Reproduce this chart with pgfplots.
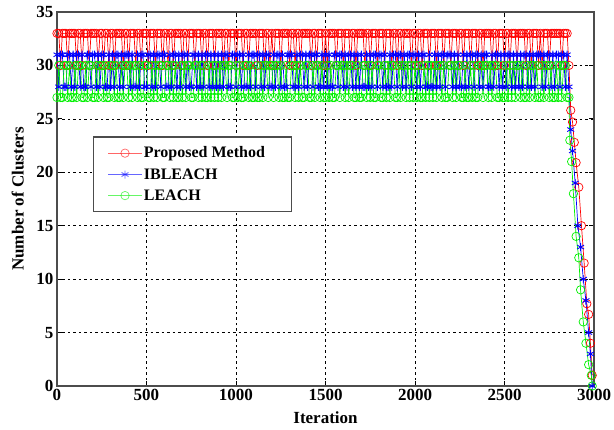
\documentclass[border=0pt]{standalone}
\usepackage{fontspec}
\setmainfont{Liberation Serif}
\usepackage{pgfplots}
\pgfplotsset{compat=1.18}
\definecolor{mred}{RGB}{255,0,0}
\definecolor{mblue}{RGB}{0,0,255}
\definecolor{mgreen}{RGB}{0,240,0}
\begin{document}
\begin{tikzpicture}
\begin{axis}[
  at={(0pt,0pt)}, anchor=south west,
  scale only axis, width=537pt, height=374pt,
  xmin=0, xmax=3000, ymin=0, ymax=35,
  xtick={0,500,...,3000}, ytick={0,5,...,35},
  /pgf/number format/assume math mode=true,
  /pgf/number format/1000 sep={},
  ticklabel style={font=\fontsize{17}{19}\selectfont\bfseries},
  label style={font=\fontsize{17}{19}\selectfont\bfseries},
  xlabel={Iteration}, ylabel={Number of Clusters},
  xlabel style={at={(axis description cs:0.5,-0.0856)}, anchor=center},
  ylabel style={at={(axis description cs:-0.073,0.5)}, anchor=center},
  grid=major, major grid style={black, line width=0.6pt, dash pattern=on 2.5pt off 3pt},
  axis line style={line width=1.2pt, black!70},
  tick style={black, line width=0.8pt}, major tick length=5pt,
  legend style={at={(0.067,0.668)}, anchor=north west, draw=black!70, line width=1.4pt,
    font=\fontsize{16}{18}\selectfont\bfseries, row sep=6pt, inner ysep=8.5pt,
    nodes={inner sep=1.5pt}},
  legend cell align=left,
  legend image code/.code={\path (-11pt,0pt); \draw[mark repeat=2,mark phase=2,opacity=0.6] plot coordinates {(0pt,0pt)(17pt,0pt)(34pt,0pt)};},
]
\addplot[color=mred, line width=0.7pt, mark=o, mark size=4.2pt, mark options={line width=0.7pt}] coordinates {
(0,33)(10,33)(20,30)(30,33)(40,33)(50,33)(60,30)(70,33)(80,33)(90,33)
(100,33)(110,30)(120,33)(130,33)(140,30)(150,33)(160,33)(170,33)(180,30)(190,33)
(200,33)(210,33)(220,33)(230,30)(240,33)(250,33)(260,30)(270,33)(280,33)(290,30)
(300,33)(310,33)(320,30)(330,33)(340,33)(350,33)(360,33)(370,30)(380,33)(390,33)
(400,30)(410,33)(420,33)(430,33)(440,30)(450,33)(460,33)(470,30)(480,33)(490,33)
(500,33)(510,30)(520,33)(530,33)(540,33)(550,30)(560,33)(570,33)(580,33)(590,30)
(600,33)(610,33)(620,30)(630,33)(640,33)(650,30)(660,33)(670,33)(680,33)(690,33)
(700,30)(710,33)(720,33)(730,30)(740,33)(750,33)(760,33)(770,30)(780,33)(790,33)
(800,33)(810,30)(820,33)(830,33)(840,30)(850,33)(860,33)(870,33)(880,30)(890,33)
(900,33)(910,33)(920,33)(930,30)(940,33)(950,33)(960,30)(970,33)(980,33)(990,33)
(1000,30)(1010,33)(1020,33)(1030,33)(1040,30)(1050,33)(1060,33)(1070,30)(1080,33)(1090,33)
(1100,33)(1110,33)(1120,30)(1130,33)(1140,33)(1150,33)(1160,30)(1170,33)(1180,33)(1190,30)
(1200,33)(1210,30)(1220,33)(1230,33)(1240,33)(1250,30)(1260,33)(1270,33)(1280,33)(1290,33)
(1300,30)(1310,33)(1320,33)(1330,30)(1340,33)(1350,33)(1360,30)(1370,33)(1380,33)(1390,33)
(1400,33)(1410,33)(1420,30)(1430,33)(1440,33)(1450,30)(1460,33)(1470,33)(1480,33)(1490,30)
(1500,33)(1510,30)(1520,33)(1530,33)(1540,33)(1550,33)(1560,30)(1570,33)(1580,33)(1590,33)
(1600,30)(1610,33)(1620,33)(1630,33)(1640,30)(1650,33)(1660,33)(1670,30)(1680,33)(1690,33)
(1700,33)(1710,33)(1720,30)(1730,33)(1740,33)(1750,30)(1760,33)(1770,33)(1780,33)(1790,30)
(1800,33)(1810,33)(1820,33)(1830,30)(1840,33)(1850,33)(1860,33)(1870,30)(1880,33)(1890,33)
(1900,30)(1910,33)(1920,33)(1930,30)(1940,33)(1950,33)(1960,33)(1970,33)(1980,30)(1990,33)
(2000,33)(2010,30)(2020,33)(2030,33)(2040,30)(2050,33)(2060,33)(2070,33)(2080,30)(2090,33)
(2100,33)(2110,33)(2120,30)(2130,33)(2140,33)(2150,33)(2160,30)(2170,33)(2180,33)(2190,33)
(2200,30)(2210,33)(2220,33)(2230,33)(2240,30)(2250,33)(2260,33)(2270,30)(2280,33)(2290,33)
(2300,33)(2310,30)(2320,33)(2330,33)(2340,33)(2350,30)(2360,33)(2370,33)(2380,30)(2390,33)
(2400,33)(2410,33)(2420,33)(2430,30)(2440,33)(2450,33)(2460,30)(2470,33)(2480,33)(2490,33)
(2500,30)(2510,33)(2520,33)(2530,30)(2540,33)(2550,33)(2560,33)(2570,30)(2580,33)(2590,33)
(2600,33)(2610,33)(2620,30)(2630,33)(2640,33)(2650,30)(2660,33)(2670,33)(2680,33)(2690,30)
(2700,33)(2710,30)(2720,33)(2730,33)(2740,33)(2750,30)(2760,33)(2770,33)(2780,33)(2790,33)
(2800,33)(2810,33)(2820,30)(2830,33)(2840,33)(2850,33)
(2860,30)(2870,25.8)(2880,24.7)(2890,22.8)(2900,20.9)(2915,18.6)(2930,15)(2945,11.5)
(2960,7.7)(2970,6.7)(2980,4)(2990,1)
};
\addlegendentry{Proposed Method\hspace*{22pt}}
\addplot[color=mblue, line width=0.7pt, mark=asterisk, mark size=4pt, mark options={line width=0.9pt}] coordinates {
(0,31)(10,28)(20,31)(30,31)(40,28)(50,28)(60,31)(70,31)(80,28)(90,31)
(100,28)(110,31)(120,31)(130,28)(140,31)(150,28)(160,28)(170,31)(180,31)(190,28)
(200,31)(210,31)(220,28)(230,31)(240,28)(250,31)(260,31)(270,28)(280,28)(290,31)
(300,28)(310,31)(320,28)(330,31)(340,31)(350,28)(360,31)(370,28)(380,31)(390,31)
(400,31)(410,28)(420,31)(430,28)(440,28)(450,31)(460,28)(470,31)(480,31)(490,28)
(500,28)(510,31)(520,31)(530,28)(540,31)(550,28)(560,31)(570,31)(580,28)(590,31)
(600,31)(610,28)(620,28)(630,31)(640,28)(650,31)(660,31)(670,28)(680,31)(690,28)
(700,31)(710,31)(720,28)(730,31)(740,28)(750,28)(760,31)(770,31)(780,28)(790,31)
(800,28)(810,31)(820,28)(830,31)(840,31)(850,28)(860,31)(870,28)(880,31)(890,28)
(900,31)(910,28)(920,31)(930,28)(940,31)(950,31)(960,28)(970,28)(980,31)(990,31)
(1000,28)(1010,31)(1020,31)(1030,28)(1040,31)(1050,28)(1060,28)(1070,31)(1080,28)(1090,31)
(1100,31)(1110,28)(1120,31)(1130,31)(1140,28)(1150,31)(1160,28)(1170,31)(1180,31)(1190,28)
(1200,28)(1210,31)(1220,28)(1230,31)(1240,31)(1250,28)(1260,31)(1270,28)(1280,28)(1290,31)
(1300,31)(1310,31)(1320,28)(1330,28)(1340,31)(1350,28)(1360,31)(1370,31)(1380,28)(1390,31)
(1400,28)(1410,31)(1420,31)(1430,28)(1440,31)(1450,31)(1460,28)(1470,28)(1480,31)(1490,28)
(1500,31)(1510,28)(1520,31)(1530,28)(1540,28)(1550,31)(1560,31)(1570,28)(1580,31)(1590,31)
(1600,28)(1610,31)(1620,28)(1630,31)(1640,31)(1650,28)(1660,31)(1670,28)(1680,31)(1690,28)
(1700,31)(1710,28)(1720,28)(1730,31)(1740,28)(1750,31)(1760,28)(1770,31)(1780,31)(1790,28)
(1800,31)(1810,31)(1820,28)(1830,31)(1840,28)(1850,28)(1860,31)(1870,28)(1880,31)(1890,31)
(1900,28)(1910,31)(1920,31)(1930,28)(1940,31)(1950,28)(1960,31)(1970,31)(1980,28)(1990,31)
(2000,31)(2010,28)(2020,31)(2030,28)(2040,31)(2050,31)(2060,28)(2070,28)(2080,31)(2090,28)
(2100,28)(2110,31)(2120,28)(2130,31)(2140,28)(2150,31)(2160,31)(2170,28)(2180,31)(2190,31)
(2200,31)(2210,28)(2220,31)(2230,28)(2240,31)(2250,28)(2260,28)(2270,31)(2280,28)(2290,31)
(2300,28)(2310,31)(2320,31)(2330,28)(2340,31)(2350,31)(2360,28)(2370,31)(2380,28)(2390,31)
(2400,31)(2410,28)(2420,28)(2430,31)(2440,28)(2450,31)(2460,31)(2470,28)(2480,31)(2490,28)
(2500,31)(2510,28)(2520,31)(2530,31)(2540,28)(2550,31)(2560,28)(2570,31)(2580,28)(2590,31)
(2600,28)(2610,31)(2620,31)(2630,28)(2640,31)(2650,28)(2660,31)(2670,28)(2680,31)(2690,31)
(2700,31)(2710,28)(2720,31)(2730,28)(2740,31)(2750,31)(2760,28)(2770,31)(2780,28)(2790,31)
(2800,31)(2810,28)(2820,31)(2830,31)(2840,28)(2850,31)
(2860,28)(2870,24)(2880,22)(2895,19)(2910,15)(2925,13)(2940,10)(2955,8)(2970,5)(2980,3)(2990,0)
};
\addlegendentry{IBLEACH}
\addplot[color=mgreen, line width=0.7pt, mark=o, mark size=4.2pt, mark options={line width=0.7pt}] coordinates {
(0,27)(10,30)(20,27)(30,27)(40,30)(50,30)(60,27)(70,30)(80,27)(90,27)
(100,30)(110,27)(120,30)(130,30)(140,27)(150,27)(160,30)(170,27)(180,30)(190,30)
(200,27)(210,27)(220,30)(230,27)(240,30)(250,30)(260,27)(270,30)(280,27)(290,27)
(300,30)(310,30)(320,27)(330,30)(340,27)(350,27)(360,30)(370,27)(380,30)(390,30)
(400,27)(410,30)(420,27)(430,30)(440,30)(450,27)(460,30)(470,27)(480,27)(490,30)
(500,30)(510,27)(520,27)(530,30)(540,27)(550,30)(560,27)(570,30)(580,30)(590,27)
(600,27)(610,30)(620,30)(630,27)(640,30)(650,27)(660,30)(670,27)(680,27)(690,30)
(700,27)(710,30)(720,27)(730,30)(740,30)(750,27)(760,27)(770,30)(780,30)(790,27)
(800,30)(810,27)(820,30)(830,27)(840,27)(850,30)(860,27)(870,30)(880,27)(890,30)
(900,27)(910,30)(920,27)(930,30)(940,30)(950,27)(960,30)(970,30)(980,27)(990,27)
(1000,30)(1010,27)(1020,30)(1030,27)(1040,27)(1050,30)(1060,30)(1070,27)(1080,30)(1090,27)
(1100,27)(1110,30)(1120,27)(1130,27)(1140,30)(1150,27)(1160,30)(1170,30)(1180,27)(1190,30)
(1200,30)(1210,27)(1220,30)(1230,30)(1240,27)(1250,30)(1260,27)(1270,27)(1280,30)(1290,27)
(1300,27)(1310,30)(1320,30)(1330,27)(1340,30)(1350,27)(1360,30)(1370,27)(1380,27)(1390,30)
(1400,30)(1410,27)(1420,27)(1430,30)(1440,27)(1450,30)(1460,30)(1470,27)(1480,30)(1490,27)
(1500,27)(1510,30)(1520,27)(1530,30)(1540,27)(1550,27)(1560,30)(1570,30)(1580,27)(1590,30)
(1600,30)(1610,27)(1620,30)(1630,27)(1640,30)(1650,30)(1660,27)(1670,27)(1680,30)(1690,27)
(1700,27)(1710,30)(1720,30)(1730,27)(1740,30)(1750,27)(1760,30)(1770,27)(1780,27)(1790,30)
(1800,30)(1810,27)(1820,27)(1830,30)(1840,27)(1850,30)(1860,27)(1870,30)(1880,30)(1890,27)
(1900,27)(1910,30)(1920,27)(1930,30)(1940,30)(1950,27)(1960,30)(1970,27)(1980,30)(1990,27)
(2000,30)(2010,27)(2020,30)(2030,27)(2040,27)(2050,30)(2060,27)(2070,30)(2080,27)(2090,30)
(2100,27)(2110,30)(2120,27)(2130,30)(2140,30)(2150,27)(2160,30)(2170,27)(2180,27)(2190,30)
(2200,30)(2210,27)(2220,30)(2230,27)(2240,30)(2250,30)(2260,27)(2270,27)(2280,30)(2290,27)
(2300,27)(2310,30)(2320,27)(2330,30)(2340,27)(2350,27)(2360,30)(2370,30)(2380,27)(2390,30)
(2400,30)(2410,27)(2420,30)(2430,27)(2440,30)(2450,30)(2460,27)(2470,27)(2480,30)(2490,27)
(2500,27)(2510,30)(2520,27)(2530,30)(2540,27)(2550,30)(2560,27)(2570,30)(2580,30)(2590,27)
(2600,30)(2610,27)(2620,27)(2630,30)(2640,27)(2650,30)(2660,30)(2670,27)(2680,30)(2690,27)
(2700,27)(2710,30)(2720,27)(2730,30)(2740,30)(2750,27)(2760,30)(2770,27)(2780,27)(2790,30)
(2800,27)(2810,30)(2820,27)(2830,30)(2840,30)(2850,27)
(2860,27)(2865,23)(2875,21)(2885,18)(2900,14)(2915,12)(2925,9)(2940,6)(2955,4)(2970,2)(2985,1)(2990,0)
};
\addlegendentry{LEACH}
\end{axis}
\pgfresetboundingbox
\path (-57pt,-44pt) rectangle (557pt,386pt);
\end{tikzpicture}
\end{document}
